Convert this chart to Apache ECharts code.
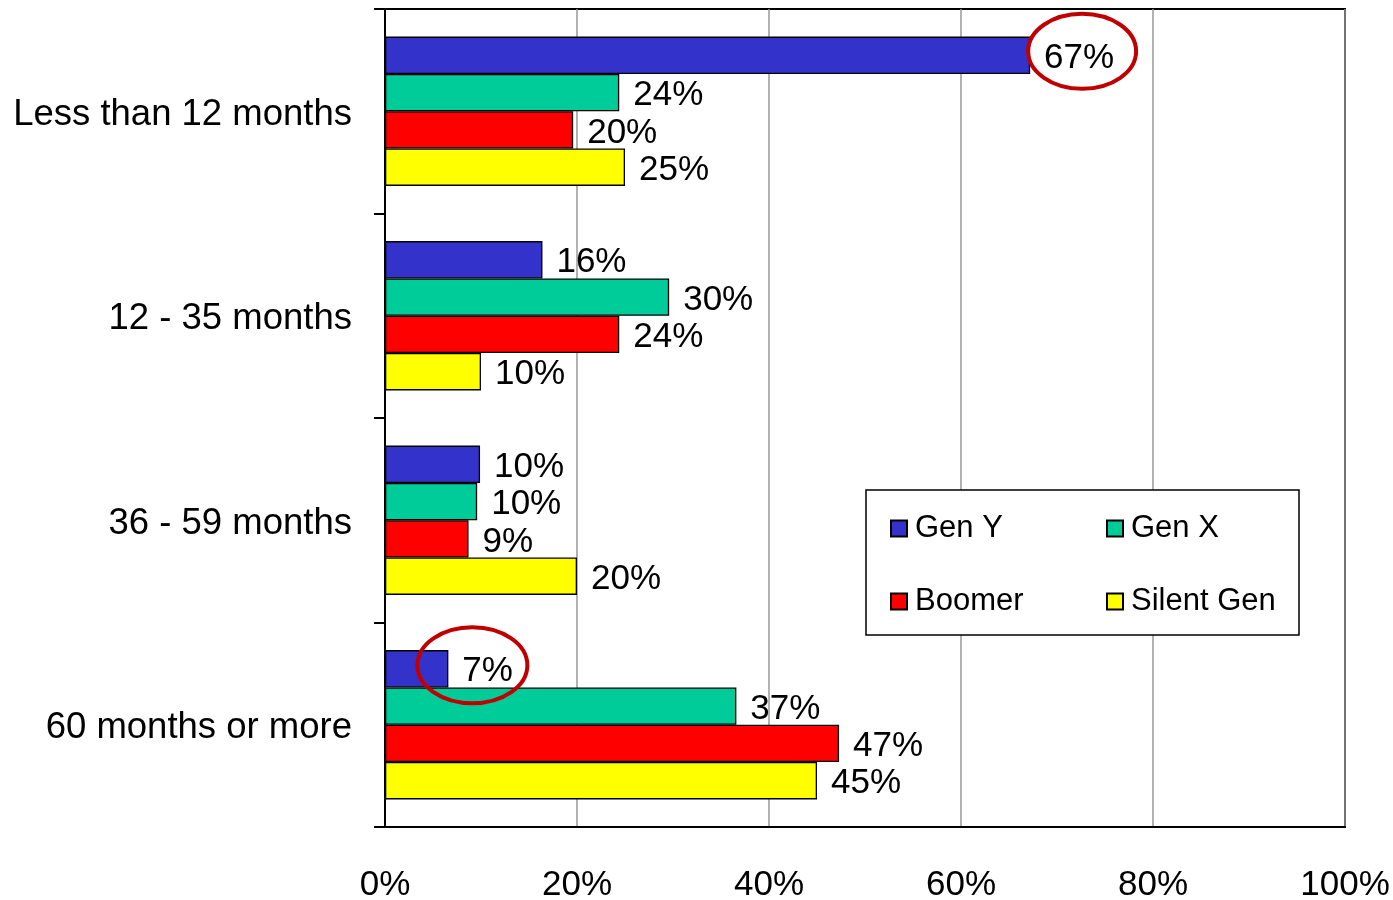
<!DOCTYPE html>
<html>
<head>
<meta charset="utf-8">
<script src="https://cdn.jsdelivr.net/npm/echarts@6/dist/echarts.min.js"></script>
<style>
html,body{margin:0;padding:0;background:#fff;}
#main{width:1393px;height:900px;}
</style>
</head>
<body>
<div id="main"></div>
<script>
var categories = ['Less than 12 months', '12 - 35 months', '36 - 59 months', '60 months or more'];
var seriesNames = ['Gen Y', 'Gen X', 'Boomer', 'Silent Gen'];
var genY = [67.2, 16.4, 9.9, 6.6];
var genX = [24.4, 29.6, 9.6, 36.6];
var boomer = [19.6, 24.4, 8.7, 47.3];
var silentGen = [25.0, 10.0, 20.0, 45.0];
var xTicks = [0, 20, 40, 60, 80, 100];

var colors = ['#3333CC', '#00CC99', '#FF0000', '#FFFF00'];
var FONT = 'Liberation Sans';

var chart = echarts.init(document.getElementById('main'));

function mkSeries(name, data, color) {
  return {
    name: name,
    type: 'bar',
    data: data,
    barGap: '0%',
    barCategoryGap: '27%',
    itemStyle: { color: color, borderColor: '#000', borderWidth: 1.3 },
    label: {
      show: true,
      position: 'right',
      distance: 14,
      offset: [0, 3],
      fontFamily: FONT,
      fontSize: 35,
      color: '#000',
      formatter: function (p) { return Math.round(p.value) + '%'; }
    },
    z: 2
  };
}

var legendCommon = {
  orient: 'vertical',
  padding: 0,
  itemWidth: 16,
  itemHeight: 16,
  itemGap: 42,
  icon: 'rect',
  textStyle: { fontFamily: FONT, fontSize: 31, color: '#000', padding: [3, 0, 0, 3] },
  z: 10
};

var option = {
  animation: false,
  backgroundColor: '#fff',
  grid: {
    left: 385, right: 48, top: 9, bottom: 73,
    outerBoundsMode: 'none',
    containLabel: false,
    show: true, borderColor: '#000', borderWidth: 2, backgroundColor: 'transparent'
  },
  xAxis: {
    type: 'value',
    min: xTicks[0], max: xTicks[xTicks.length - 1], interval: 20,
    axisLine: { show: true, lineStyle: { color: '#000', width: 2 } },
    axisTick: { show: false },
    splitLine: { show: true, lineStyle: { color: '#999', width: 1.5 } },
    axisLabel: {
      margin: 41, fontFamily: FONT, fontSize: 35, color: '#000',
      formatter: '{value}%'
    }
  },
  yAxis: {
    type: 'category',
    inverse: true,
    data: categories,
    axisLine: { show: true, lineStyle: { color: '#000', width: 2 } },
    axisTick: { show: true, length: 11, lineStyle: { color: '#000', width: 2 } },
    axisLabel: {
      margin: 33,
      formatter: function (v) { return '{c|' + v + '}'; },
      rich: { c: { fontFamily: FONT, fontSize: 36.5, color: '#000', padding: [7, 0, 0, 0] } }
    }
  },
  legend: [
    Object.assign({ data: [seriesNames[0], seriesNames[2]], left: 890, top: 513 }, legendCommon),
    Object.assign({ data: [seriesNames[1], seriesNames[3]], left: 1106, top: 513 }, legendCommon)
  ],
  graphic: [{
    type: 'rect',
    id: 'legendBox',
    shape: { x: 866, y: 490, width: 433, height: 145 },
    style: { fill: '#fff', stroke: '#000', lineWidth: 1.5 },
    z: 5
  }],
  series: [
    mkSeries(seriesNames[0], genY, colors[0]),
    mkSeries(seriesNames[1], genX, colors[1]),
    mkSeries(seriesNames[2], boomer, colors[2]),
    mkSeries(seriesNames[3], silentGen, colors[3])
  ]
};

chart.setOption(option);

// Highlight ellipses around selected labels (series 0, data indices 0 and 3)
var highlights = [
  { seriesIndex: 0, dataIndex: 0, dx: 52, dy: -4, rx: 54, ry: 37.5 },
  { seriesIndex: 0, dataIndex: 3, dx: 24, dy: -3.5, rx: 55, ry: 38 }
];
var ellipses = highlights.map(function (h, i) {
  var data = chart.getModel().getSeriesByIndex(h.seriesIndex).getData();
  var lay = data.getItemLayout(h.dataIndex);
  var barEnd = lay.x + lay.width;
  var cy = lay.y + lay.height / 2;
  return {
    type: 'ellipse',
    id: 'hl' + i,
    shape: { cx: barEnd + h.dx, cy: cy + h.dy, rx: h.rx, ry: h.ry },
    style: { fill: 'none', stroke: '#C00000', lineWidth: 4 },
    z: 20
  };
});
chart.setOption({ graphic: ellipses });
</script>
</body>
</html>
